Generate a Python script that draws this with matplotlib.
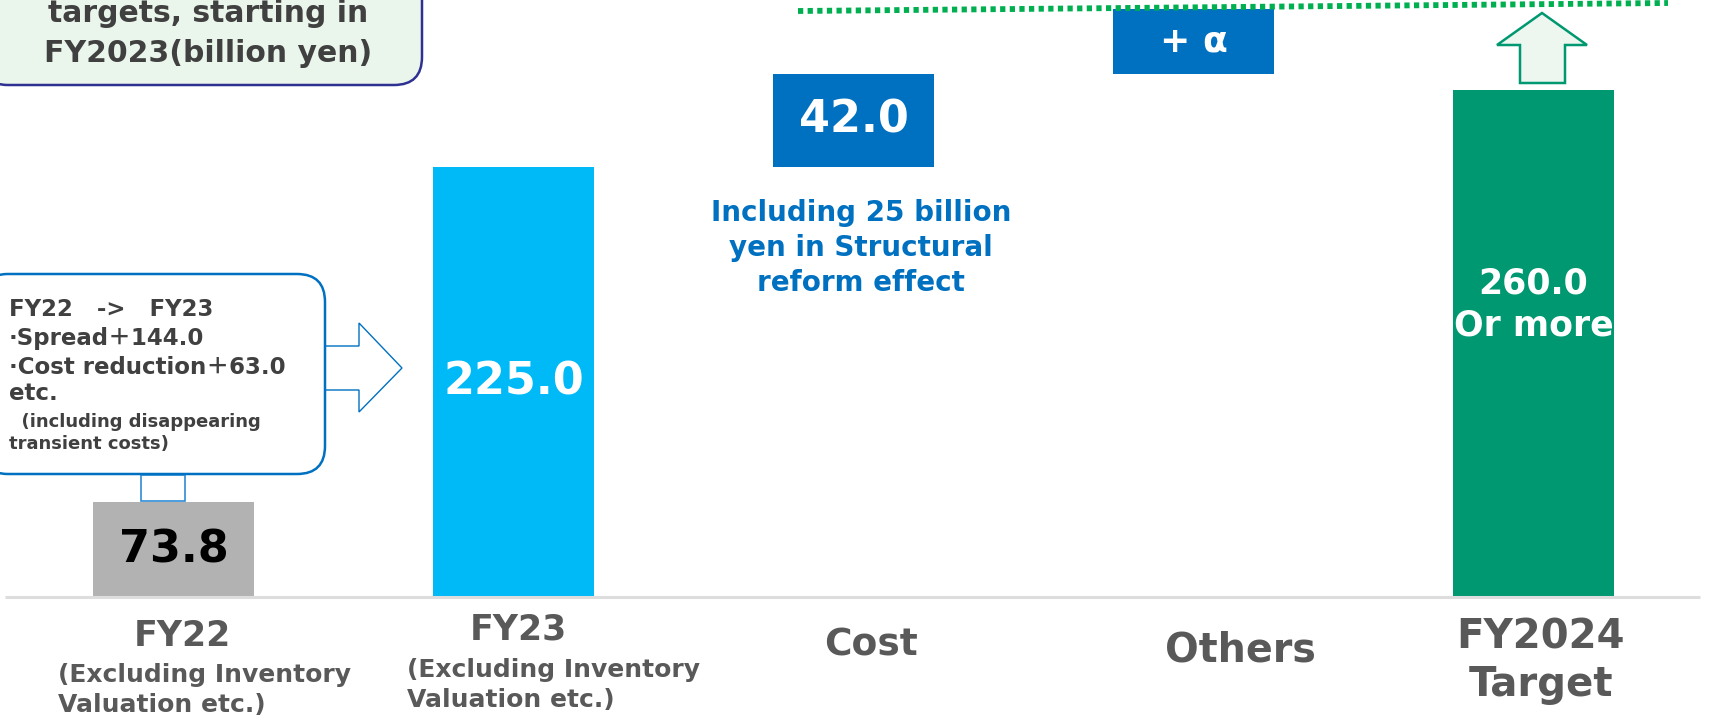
import matplotlib
matplotlib.use("Agg")
import matplotlib.pyplot as plt
from matplotlib.patches import FancyBboxPatch, Polygon, Rectangle
import matplotlib.transforms as mtransforms

# ---------------- data ----------------
categories = ["FY22", "FY23", "Cost", "Others", "FY2024"]
value_labels = ["73.8", "225.0", "42.0", "+ α", "260.0\nOr more"]
# bar extents as drawn in the (not-to-scale) chart, in chart units
bar_bottoms = [0.0, 0.0, 225.0, 273.7, 0.0]
bar_tops = [49.7, 225.0, 273.7, 307.7, 265.3]
bar_colors = ["#B2B2B2", "#00B9F7", "#0070C0", "#0070C0", "#009870"]
label_colors = ["#000000", "#FFFFFF", "#FFFFFF", "#FFFFFF", "#FFFFFF"]
label_sizes = [32, 32, 32, 26, 25]
x_main = ["FY22", "FY23", "Cost", "Others", "FY2024\nTarget"]
x_sub = ["(Excluding Inventory\nValuation etc.)", "(Excluding Inventory\nValuation etc.)", "", "", ""]
callout_lines = ["FY22   ->   FY23", "·Spread＋144.0", "·Cost reduction＋63.0", "etc.",
                 "  (including disappearing", "transient costs)"]
note_text = "Including 25 billion\nyen in Structural\nreform effect"
title_lines = ["targets, starting in", "FY2023(billion yen)"]

W, H = 1709, 721
fig = plt.figure(figsize=(W / 100, H / 100), dpi=100)
ax = fig.add_axes([0, 0, 1, 1])
ax.set_axis_off()

# pixel layout: bar centers at 173.5 + 340*i, baseline at y=597 px, 1.911 px per unit
px_per_unit = 1.911
x0, dx = 173.5, 340.0
ax.set_xlim((0 - x0) / dx, (W - x0) / dx)
ax.set_ylim(-(H - 597) / px_per_unit, 597 / px_per_unit)

# pixel transform (origin top-left)
pix = mtransforms.Affine2D().scale(1 / W, -1 / H).translate(0, 1) + fig.transFigure

xs = list(range(len(categories)))
heights = [t - b for t, b in zip(bar_tops, bar_bottoms)]
ax.bar(xs, heights, bottom=bar_bottoms, width=0.476, color=bar_colors, zorder=2)

# baseline
ax.plot([5, 1700], [597, 597], transform=pix, color="#DDDDDD", lw=2.2, zorder=3,
        solid_capstyle="butt")

# value labels
for i, (lab, c, fs) in enumerate(zip(value_labels, label_colors, label_sizes)):
    if i == 4:
        y = 153
    else:
        y = (bar_bottoms[i] + bar_tops[i]) / 2
    ax.text(i, y, lab, ha="center", va="center", color=c, fontsize=fs,
            fontweight="bold", linespacing=1.3, zorder=4,
            family=["DejaVu Sans", "Noto Sans CJK JP"])

# dotted target line
ax.plot([798, 1668], [11, 3], transform=pix, color="#00B050", lw=4.2,
        linestyle=(0, (0.9, 0.75)), zorder=5)

# up arrow above FY2024
up = Polygon([(1520, 83), (1565, 83), (1565, 45), (1587, 45), (1542, 13),
              (1497, 45), (1520, 45)], closed=True, transform=pix,
             facecolor="#EDF7EF", edgecolor="#009870", lw=1.8, zorder=4)
fig.add_artist(up)

# title box (partially off the top)
tb = FancyBboxPatch((-20, -80), 442, 165, boxstyle="round,pad=0,rounding_size=28",
                    transform=pix, facecolor="#EAF6EC", edgecolor="#2E3192", lw=1.8,
                    zorder=4)
fig.add_artist(tb)
for yy, t in zip([13, 53], title_lines):
    fig.text(208 / W, 1 - yy / H, t, ha="center", va="center", fontsize=21.5,
             fontweight="bold", color="#404040", zorder=5)

# callout box
cb = FancyBboxPatch((-20, 274), 345, 200, boxstyle="round,pad=0,rounding_size=28",
                    transform=pix, facecolor="white", edgecolor="#0070C0", lw=1.8,
                    zorder=4)
fig.add_artist(cb)
line_y = [310, 339, 368, 394, 422, 444]
line_fs = [16.5, 16.5, 16.5, 16.5, 13, 13]
for yy, t, fs in zip(line_y, callout_lines, line_fs):
    fig.text(9 / W, 1 - yy / H, t, ha="left", va="center", fontsize=fs,
             fontweight="bold", color="#404040", zorder=5,
             family=["DejaVu Sans", "Noto Sans CJK JP"])

# connector below callout
con = Rectangle((141, 475), 44, 26, transform=pix, facecolor="white",
                edgecolor="#2E8BD6", lw=1.2, zorder=3)
fig.add_artist(con)

# right arrow callout -> FY23
ra = Polygon([(325, 346), (359, 346), (359, 323), (402, 368), (359, 412),
              (359, 390), (325, 390)], closed=True, transform=pix,
             facecolor="white", edgecolor="#0070C0", lw=1.0, zorder=3)
fig.add_artist(ra)

# note text
fig.text(861 / W, 1 - 248 / H, note_text, ha="center", va="center", fontsize=20,
         fontweight="bold", color="#0070C0", linespacing=1.3)

# x category labels
main_pos = [(182, 636, 25, 1.2), (518, 630, 25, 1.2), (871, 645, 27, 1.2),
            (1240, 651, 28.5, 1.2), (1541, 661, 29, 1.25)]
for (px, py, fs, ls), t in zip(main_pos, x_main):
    fig.text(px / W, 1 - py / H, t, ha="center", va="center", fontsize=fs,
             fontweight="bold", color="#595959", linespacing=ls)
sub_pos = [(58, 690), (407, 685)]
for (px, py), t in zip(sub_pos, x_sub[:2]):
    fig.text(px / W, 1 - py / H, t, ha="left", va="center", fontsize=18,
             fontweight="bold", color="#595959", linespacing=1.35)

fig.savefig("out.png", dpi=100)
